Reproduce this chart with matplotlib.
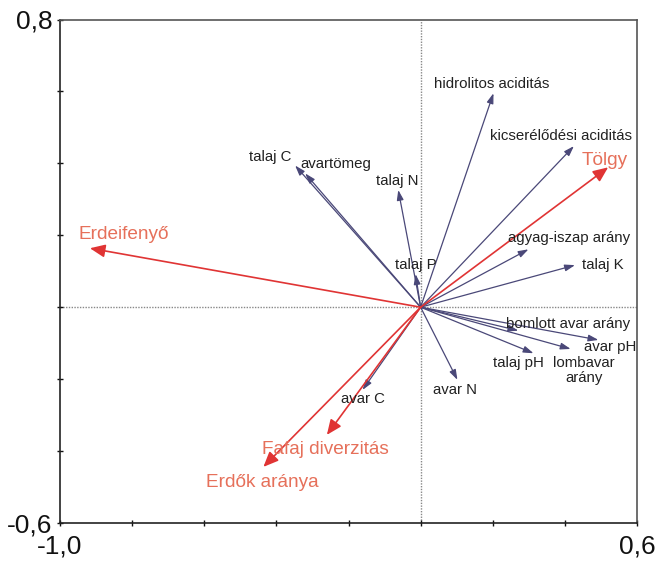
import matplotlib
matplotlib.use("Agg")
import matplotlib.pyplot as plt

plt.rcParams['font.family'] = ['Liberation Sans', 'DejaVu Sans']

# Environmental / soil variables (blue arrows)
env_names = ["hidrolitos aciditás", "kicserélődési aciditás", "talaj C", "avartömeg",
             "talaj N", "agyag-iszap arány", "talaj K", "talaj P",
             "bomlott avar arány", "avar pH", "lombavar\narány", "talaj pH",
             "avar N", "avar C"]
env_x = [0.202, 0.425, -0.348, -0.320, -0.062, 0.299, 0.428, -0.014,
         0.271, 0.493, 0.416, 0.313, 0.102, -0.161]
env_y = [0.595, 0.448, 0.394, 0.372, 0.326, 0.161, 0.117, 0.092,
         -0.065, -0.091, -0.116, -0.128, -0.202, -0.230]
env_lx = [0.037, 0.192, -0.476, -0.333, -0.124, 0.242, 0.447, -0.071,
          0.237, 0.453, 0.453, 0.202, 0.035, -0.222]
env_ly = [0.621, 0.476, 0.418, 0.398, 0.352, 0.192, 0.117, 0.117,
          -0.047, -0.110, -0.176, -0.154, -0.230, -0.256]
env_ha = ["left"] * 10 + ["center"] + ["left"] * 3

# Supplementary forest variables (red arrows)
sup_names = ["Tölgy", "Erdeifenyő", "Fafaj diverzitás", "Erdők aránya"]
sup_x = [0.520, -0.917, -0.260, -0.436]
sup_y = [0.389, 0.164, -0.355, -0.444]
sup_lx = [0.447, -0.949, -0.440, -0.595]
sup_ly = [0.409, 0.201, -0.397, -0.488]

x_ticks = [-1.0, -0.8, -0.6, -0.4, -0.2, 0.0, 0.2, 0.4, 0.6]
x_labels = ["-1,0", "", "", "", "", "", "", "", "0,6"]
y_ticks = [-0.6, -0.4, -0.2, 0.0, 0.2, 0.4, 0.6, 0.8]
y_labels = ["-0,6", "", "", "", "", "", "", "0,8"]

blue = "#4a4878"
red = "#e03434"
red_txt = "#e6705a"

fig = plt.figure(figsize=(6.66, 5.61), dpi=100)
ax = fig.add_axes([60 / 666, 38 / 561, 577 / 666, 503.5 / 561])
ax.set_xlim(-1.0, 0.6)
ax.set_ylim(-0.6, 0.8)

ax.axhline(0, color="#888888", lw=1, ls=(0, (1, 1)), zorder=0)
ax.axvline(0, color="#888888", lw=1, ls=(0, (1, 1)), zorder=0)

for x, y in zip(env_x, env_y):
    ax.annotate("", xy=(x, y), xytext=(0, 0),
                arrowprops=dict(arrowstyle="-|>,head_length=0.6,head_width=0.2",
                                color=blue, lw=0.9, mutation_scale=10,
                                shrinkA=0, shrinkB=0))
for x, y in zip(sup_x, sup_y):
    ax.annotate("", xy=(x, y), xytext=(0, 0),
                arrowprops=dict(arrowstyle="-|>,head_length=0.7,head_width=0.3",
                                color=red, lw=1.2, mutation_scale=13,
                                shrinkA=0, shrinkB=0))

for n, x, y, ha in zip(env_names, env_lx, env_ly, env_ha):
    ax.text(x, y, n, ha=ha, va="center", fontsize=10.8, color="#222222",
            linespacing=1.1)
for n, x, y in zip(sup_names, sup_lx, sup_ly):
    ax.text(x, y, n, ha="left", va="center", fontsize=13.7, color=red_txt)

ax.set_xticks(x_ticks)
ax.set_xticklabels(x_labels)
ax.set_yticks(y_ticks)
ax.set_yticklabels(y_labels)
ax.tick_params(direction="inout", length=5, width=1, labelsize=19, colors="#111111")
ax.tick_params(axis="x", pad=6)
ax.tick_params(axis="y", pad=3)
for s in ax.spines.values():
    s.set_linewidth(1.2)
    s.set_color("#222222")
ax.spines["right"].set_color("#555555")
ax.spines["top"].set_color("#555555")

fig.savefig("out.png", dpi=100)
